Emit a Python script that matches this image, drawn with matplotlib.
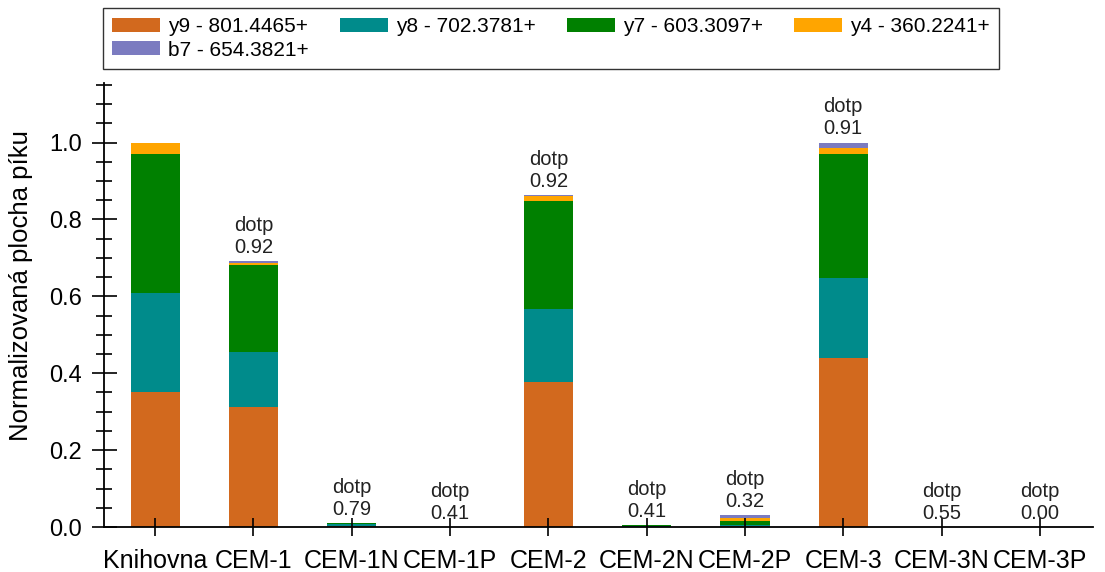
import matplotlib
matplotlib.use('Agg')
import matplotlib.pyplot as plt
from matplotlib.ticker import MultipleLocator, FormatStrFormatter
import numpy as np

plt.rcParams['font.family'] = ['Liberation Sans', 'DejaVu Sans']

# ------------------------------------------------------------------ data
samples = ['Knihovna', 'CEM-1', 'CEM-1N', 'CEM-1P', 'CEM-2', 'CEM-2N',
           'CEM-2P', 'CEM-3', 'CEM-3N', 'CEM-3P']
y9 = [0.350, 0.312, 0.003, 0.0, 0.377, 0.001, 0.002, 0.439, 0.0, 0.0]
y8 = [0.259, 0.143, 0.006, 0.0, 0.189, 0.001, 0.002, 0.210, 0.0, 0.0]
y7 = [0.362, 0.226, 0.002, 0.0, 0.281, 0.004, 0.012, 0.322, 0.0, 0.0]
y4 = [0.029, 0.007, 0.0, 0.0, 0.013, 0.0, 0.008, 0.014, 0.0, 0.0]
b7 = [0.0, 0.003, 0.0, 0.0, 0.003, 0.0, 0.007, 0.015, 0.0, 0.0]
dotp = [None, 0.92, 0.79, 0.41, 0.92, 0.41, 0.32, 0.91, 0.55, 0.00]

series = [
    ('y9 - 801.4465+', y9, '#D2691E'),
    ('y8 - 702.3781+', y8, '#008B8B'),
    ('y7 - 603.3097+', y7, '#008000'),
    ('y4 - 360.2241+', y4, '#FFA500'),
    ('b7 - 654.3821+', b7, '#7B7BC0'),
]

# ------------------------------------------------------------------ plot
fig = plt.figure(figsize=(11.05, 5.72), dpi=100)
ax = fig.add_axes([104 / 1105, 1 - 527 / 572, (1093 - 104) / 1105, (527 - 83) / 572])

x = np.arange(len(samples))
bottom = np.zeros(len(samples))
handles = []
for name, vals, col in series:
    h = ax.bar(x, vals, width=0.5, bottom=bottom, color=col, linewidth=0, label=name)
    handles.append(h)
    bottom += np.array(vals)

for xi, top, d in zip(x, bottom, dotp):
    if d is None:
        continue
    ax.annotate(f'dotp\n{d:.2f}', (xi, top), xytext=(0, 3), textcoords='offset points',
                ha='center', va='bottom', fontsize=14.5, color='#222222', linespacing=1.2)

ax.set_xlim(-0.52, 9.54)
ax.set_ylim(0, 1.155)
ax.set_xticks(x)
ax.set_xticklabels(samples, fontsize=18)
ax.yaxis.set_major_locator(MultipleLocator(0.2))
ax.yaxis.set_minor_locator(MultipleLocator(0.05))
ax.yaxis.set_major_formatter(FormatStrFormatter('%.1f'))
ax.tick_params(axis='y', which='major', direction='inout', length=18, width=1.2,
               labelsize=17, pad=7)
ax.tick_params(axis='y', which='minor', direction='inout', length=11, width=1.2)
ax.tick_params(axis='x', direction='inout', length=13, width=1.2, pad=9)
ax.set_ylabel('Normalizovaná plocha píku', fontsize=18.5)
ax.yaxis.set_label_coords(-0.072, 0.543)
for s in ['top', 'right']:
    ax.spines[s].set_visible(False)
for s in ['left', 'bottom']:
    ax.spines[s].set_linewidth(1.3)

# row-wise legend order: y9 y8 y7 y4 / b7
order = [0, 4, 1, 2, 3]
leg = fig.legend(handles=[handles[i] for i in order], loc='upper left',
                 bbox_to_anchor=(103 / 1105, 1 - 8 / 572),
                 ncol=4, fontsize=15, frameon=True, fancybox=False, edgecolor='black',
                 handlelength=2.3, handleheight=0.65, columnspacing=1.5, handletextpad=0.38,
                 borderpad=0.45, labelspacing=0.2, borderaxespad=0)
leg.get_frame().set_linewidth(1.0)

plt.savefig('out.png', dpi=100)
